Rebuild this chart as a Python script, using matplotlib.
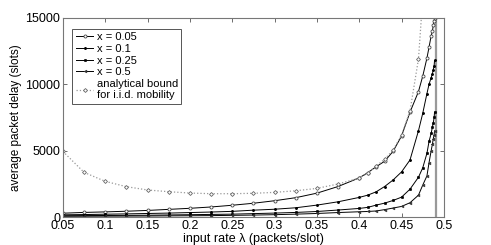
import numpy as np
import matplotlib
matplotlib.use("Agg")
import matplotlib.pyplot as plt

plt.rcParams['font.family'] = ['Liberation Sans', 'DejaVu Sans']

# input rate (packets/slot) for the simulated curves
lam = [0.05, 0.075, 0.1, 0.125, 0.15, 0.175, 0.2, 0.225, 0.25, 0.275, 0.3, 0.325,
       0.35, 0.375, 0.4, 0.41, 0.42, 0.43, 0.44, 0.45, 0.46, 0.47, 0.475, 0.48,
       0.4825, 0.485, 0.4865, 0.4875, 0.4885, 0.489]

delay_x005 = [290, 350, 390, 440, 500, 580, 660, 760, 890, 1040, 1230, 1460,
              1800, 2300, 2950, 3340, 3790, 4200, 4950, 6100, 7900, 9450, 10600, 11970,
              12800, 13650, 14000, 14450, 14750, 15000]
delay_x01 = [170, 190, 215, 240, 270, 300, 340, 380, 430, 520, 590, 700,
             900, 1150, 1480, 1650, 1900, 2300, 2790, 3400, 4300, 6500, 7800, 9300,
             10000, 10500, 10800, 11100, 11400, 11800]
delay_x025 = [100, 110, 120, 130, 140, 160, 180, 200, 220, 260, 300, 350,
              420, 530, 650, 730, 900, 1050, 1250, 1500, 2100, 3000, 3700, 4800,
              5700, 6300, 6800, 7100, 7500, 7900]
delay_x05 = [60, 65, 70, 75, 80, 90, 100, 110, 130, 150, 180, 220,
             270, 340, 400, 420, 460, 560, 680, 800, 1080, 1650, 2400, 3100,
             4100, 5000, 5500, 5900, 6200, 6500]

# analytical bound for i.i.d. mobility
lam_bound = [0.05, 0.075, 0.1, 0.125, 0.15, 0.175, 0.2, 0.225, 0.25, 0.275, 0.3,
             0.325, 0.35, 0.375, 0.4, 0.41, 0.42, 0.43, 0.44, 0.45, 0.46, 0.47, 0.48]
delay_bound = [4950, 3370, 2690, 2290, 2040, 1910, 1810, 1760, 1760, 1790, 1860,
               1980, 2160, 2490, 2940, 3300, 3850, 4350, 5050, 6180, 7990, 11900, 21000]

x_ticks = [0.05, 0.1, 0.15, 0.2, 0.25, 0.3, 0.35, 0.4, 0.45, 0.5]
x_ticklabels = ['0.05', '0.1', '0.15', '0.2', '0.25', '0.3', '0.35', '0.4', '0.45', '0.5']
y_ticks = [0, 5000, 10000, 15000]

fig = plt.figure(figsize=(4.91, 2.45), dpi=100)
ax = fig.add_axes([0.128, 0.114, 0.776, 0.813])

lw = 0.7
ax.plot(lam, delay_x005, '-', color='black', lw=lw, marker='o', ms=2.2,
        mfc='white', mec='#444444', mew=0.6, label='x = 0.05')
ax.plot(lam, delay_x01, '-', color='black', lw=lw, marker='.', ms=2.2,
        label='x = 0.1')
ax.plot(lam, delay_x025, '-', color='black', lw=lw, marker='o', ms=1.8,
        mfc='black', mew=0.4, label='x = 0.25')
ax.plot(lam, delay_x05, '-', color='black', lw=lw, marker='<', ms=2.0,
        mfc='#333333', mec='#333333', mew=0.4, label='x = 0.5')
ax.plot(lam_bound, delay_bound, ':', color='#999999', lw=0.9, marker='D', ms=2.0,
        mfc='white', mec='#666666', mew=0.6,
        label='analytical bound\nfor i.i.d. mobility')

# capacity asymptote
ax.axvline(0.4903, color='#999999', lw=1.6, zorder=1)

ax.set_xlim(0.05, 0.5)
ax.set_ylim(0, 15000)
ax.set_xticks(x_ticks)
ax.set_xticklabels(x_ticklabels)
ax.set_yticks(y_ticks)
ax.tick_params(direction='in', top=True, right=True, length=3, width=0.6,
               labelsize=9, pad=2, color='#555555')
for s in ax.spines.values():
    s.set_color('#777777')
    s.set_linewidth(0.8)

ax.set_xlabel('input rate \u03bb (packets/slot)', fontsize=9, labelpad=1)
ax.set_ylabel('average packet delay (slots)', fontsize=8.5, labelpad=2)

leg = ax.legend(loc='upper left', bbox_to_anchor=(0.025, 0.945), fontsize=8,
                handlelength=1.6, handletextpad=0.3, borderpad=0.3,
                labelspacing=0.15, fancybox=False, framealpha=1,
                borderaxespad=0)
leg.get_frame().set_edgecolor('#555555')
leg.get_frame().set_linewidth(0.7)

fig.savefig('out.png', dpi=100)
